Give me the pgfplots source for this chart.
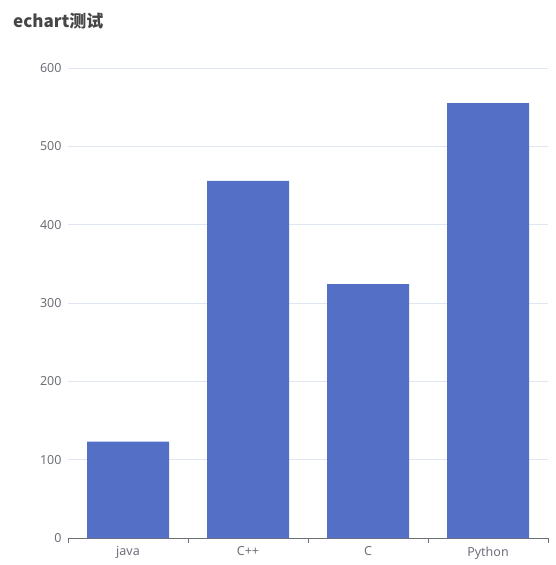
\documentclass[border=0pt]{standalone}
\usepackage{fontspec}
\setmainfont{Noto Sans}
\newfontfamily\cjk{Noto Sans CJK SC}
\usepackage{pgfplots}
\pgfplotsset{compat=1.18}
\definecolor{barblue}{HTML}{5470C6}
\definecolor{gridc}{HTML}{E0E6F1}
\definecolor{axisc}{HTML}{6E7079}
\definecolor{titlec}{HTML}{464646}
\begin{document}
\begin{tikzpicture}[x=1pt,y=1pt]
  \useasboundingbox (0,0) rectangle (556,565);
  \node[anchor=west, text=titlec, font=\cjk\bfseries\fontsize{17}{19}\selectfont, inner sep=0pt] at (13,544) {echart测试};
  \begin{axis}[
      at={(68pt,27pt)}, anchor=south west,
      scale only axis, width=480pt, height=470pt,
      xmin=-0.5, xmax=3.5, ymin=0, ymax=600,
      ytick={0,100,...,600},
      xtick={0,1,2,3},
      xticklabels={java, C++, C, Python},
      extra x ticks={-0.5,0.5,1.5,2.5,3.5},
      extra x tick labels={},
      extra x tick style={major tick length=5pt, tick align=outside, tick style={axisc, line width=0.8pt}},
      major tick length=0pt,
      axis x line*=bottom, axis y line*=left,
      x axis line style={axisc, line width=0.8pt, -},
      y axis line style={draw=none},
      ymajorgrids, grid style={gridc, line width=0.8pt},
      ticklabel style={text=axisc, font=\fontsize{12.5}{14}\selectfont},
      yticklabel style={xshift=-3pt},
      xticklabel style={yshift=-5pt},
      /pgf/number format/assume math mode=true,
      ybar, bar width=82pt,
      axis on top=false,
    ]
    \addplot[fill=barblue, draw=none] coordinates {(0,123) (1,456) (2,324) (3,555)};
  \end{axis}
\end{tikzpicture}
\end{document}
